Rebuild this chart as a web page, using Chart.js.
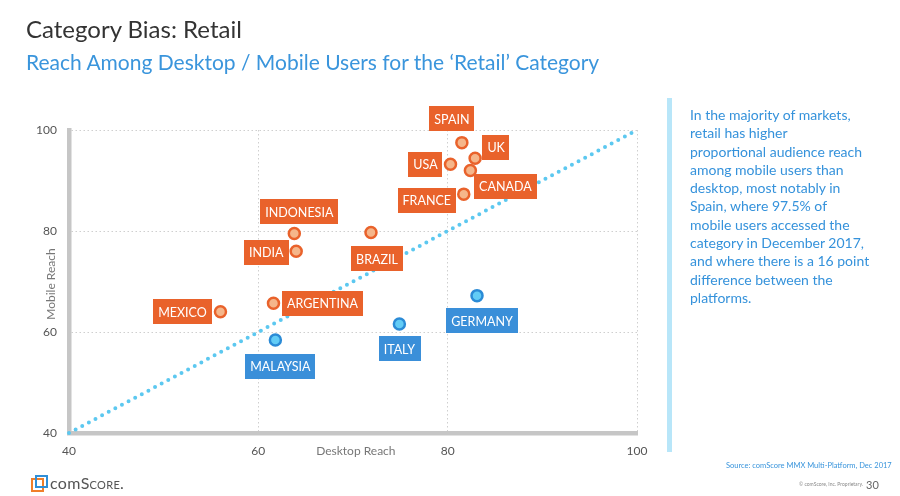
<!DOCTYPE html>
<html>
<head>
<meta charset="utf-8">
<script src="https://cdn.jsdelivr.net/npm/chart.js@4/dist/chart.umd.min.js"></script>
<style>
  html, body { margin: 0; padding: 0; background: #fff; }
  body { width: 900px; height: 496px; position: relative; overflow: hidden; font-family: 'Lato', sans-serif; }
  #wrap { position: absolute; left: 0; top: 0; width: 900px; height: 496px; }
  .title { position: absolute; left: 26px; top: 14px; font-size: 24px; color: #333; white-space: nowrap; }
  .subtitle { position: absolute; left: 26px; top: 49px; font-size: 21px; color: #3a95dc; white-space: nowrap; }
  .side-bar { position: absolute; left: 667px; top: 98px; width: 5px; height: 354px; background: #b8e6f9; }
  .side-text { position: absolute; left: 690px; top: 106px; width: 200px; font-size: 14px; line-height: 18.3px; color: #3592db; white-space: nowrap; }
  .source { position: absolute; left: 726px; top: 461px; font-size: 7.5px; color: #3a95dc; white-space: nowrap; }
  .copy { position: absolute; left: 799px; top: 481px; font-size: 5px; color: #888; white-space: nowrap; }
  .page { position: absolute; left: 866px; top: 478px; font-size: 11px; color: #666; }
  .logo { position: absolute; left: 31px; top: 475px; height: 18px; }
  .logo .sq1 { position: absolute; left: 0; top: 3px; width: 9px; height: 10px; border: 2px solid #f07f2a; }
  .logo .sq2 { position: absolute; left: 4px; top: 0px; width: 9px; height: 9px; border: 2px solid #2f8fd8; }
  .logo .word { position: absolute; left: 19px; top: -2px; font-size: 16px; color: #555; white-space: nowrap; letter-spacing: 0.3px; }
  .logo .word span { font-variant: small-caps; }
</style>
</head>
<body>
<div id="wrap"><canvas id="biasChart"></canvas></div>
<div class="title">Category Bias: Retail</div>
<div class="subtitle">Reach Among Desktop / Mobile Users for the ‘Retail’ Category</div>
<div class="side-bar"></div>
<div class="side-text">In the majority of markets,<br>retail has higher<br>proportional audience reach<br>among mobile users than<br>desktop, most notably in<br>Spain, where 97.5% of<br>mobile users accessed the<br>category in December 2017,<br>and where there is a 16 point<br>difference between the<br>platforms.</div>
<div class="source">Source: comScore MMX Multi-Platform, Dec 2017</div>
<div class="copy">© comScore, Inc. Proprietary.</div>
<div class="page">30</div>
<div class="logo"><div class="sq1"></div><div class="sq2"></div><div class="word">com<span>Score</span>.</div></div>

<script>
// Markets where mobile reach is higher (orange)
const mobileMarkets = ['SPAIN', 'UK', 'USA', 'CANADA', 'FRANCE', 'INDONESIA', 'INDIA', 'BRAZIL', 'ARGENTINA', 'MEXICO'];
const mobileDesktopReach = [81.5, 82.9, 80.3, 82.4, 81.7, 63.8, 64.0, 71.9, 61.6, 56.0];
const mobileMobileReach = [97.5, 94.4, 93.2, 92.0, 87.3, 79.5, 76.0, 79.7, 65.7, 64.0];

// Markets where desktop reach is higher (blue)
const desktopMarkets = ['MALAYSIA', 'ITALY', 'GERMANY'];
const desktopDesktopReach = [61.8, 74.9, 83.1];
const desktopMobileReach = [58.4, 61.6, 67.2];

// Axis ticks
const axisTicks = [40, 60, 80, 100];

// Label box placement relative to its point (layout only)
const labelOffsets = {
  SPAIN: [-10, -24], UK: [21, -11], USA: [-25, 0], CANADA: [35, 16], FRANCE: [-37, 6],
  INDONESIA: [5, -22], INDIA: [-30, 1], BRAZIL: [6, 26], ARGENTINA: [49, 0], MEXICO: [-38, 0],
  MALAYSIA: [5, 26], ITALY: [0, 25], GERMANY: [5, 25]
};

const colors = {
  orange: '#e9622b',
  orangeFill: '#f5b68a',
  blue: '#3a8fd9',
  blueFill: '#62ccf6',
  blueBorder: '#2b8bd6',
  diagonal: '#5cc8f0',
  axis: '#c6c6c6',
  grid: '#cfcfcf',
  tick: '#555'
};

function toPoints(xs, ys) {
  return xs.map((x, i) => ({ x: x, y: ys[i] }));
}

// draws the market tags and the axis titles
const labelPlugin = {
  id: 'marketLabels',
  afterDatasetsDraw(chart) {
    const ctx = chart.ctx;
    ctx.save();
    ctx.font = "12.5px 'Lato', sans-serif";
    ctx.textAlign = 'center';
    ctx.textBaseline = 'middle';
    [0, 1].forEach(di => {
      const ds = chart.data.datasets[di + 1];
      const meta = chart.getDatasetMeta(di + 1);
      meta.data.forEach((pt, i) => {
        const name = ds.names[i];
        const off = labelOffsets[name];
        const cx = pt.x + off[0];
        const cy = pt.y + off[1];
        const w = ctx.measureText(name).width + 10;
        const h = 25;
        ctx.fillStyle = ds.tagColor;
        ctx.fillRect(Math.round(cx - w / 2), Math.round(cy - h / 2), Math.round(w), h);
        ctx.fillStyle = '#fff';
        ctx.fillText(name, cx, cy + 1);
      });
    });

    const a = chart.chartArea;
    ctx.fillStyle = '#777';
    ctx.font = "12px 'Lato', sans-serif";
    ctx.fillText('Desktop Reach', chart.scales.x.getPixelForValue(70.3), a.bottom + 18);
    ctx.translate(51, chart.scales.y.getPixelForValue(69.5));
    ctx.rotate(-Math.PI / 2);
    ctx.fillText('Mobile Reach', 0, 0);
    ctx.restore();
  }
};

new Chart(document.getElementById('biasChart'), {
  type: 'scatter',
  data: {
    datasets: [
      {
        type: 'line',
        data: [{ x: 40, y: 40 }, { x: 100, y: 100 }],
        borderColor: colors.diagonal,
        borderWidth: 4,
        borderDash: [0, 7.5],
        borderCapStyle: 'round',
        pointRadius: 0,
        clip: false
      },
      {
        names: mobileMarkets,
        tagColor: colors.orange,
        data: toPoints(mobileDesktopReach, mobileMobileReach),
        backgroundColor: colors.orangeFill,
        borderColor: colors.orange,
        borderWidth: 2.5,
        pointRadius: 5.5,
        pointHoverRadius: 5.5
      },
      {
        names: desktopMarkets,
        tagColor: colors.blue,
        data: toPoints(desktopDesktopReach, desktopMobileReach),
        backgroundColor: colors.blueFill,
        borderColor: colors.blueBorder,
        borderWidth: 2.5,
        pointRadius: 5.5,
        pointHoverRadius: 5.5
      }
    ]
  },
  options: {
    responsive: true,
    maintainAspectRatio: false,
    animation: false,
    events: [],
    layout: { padding: { left: 0, top: 130, right: 263, bottom: 0 } },
    plugins: {
      legend: { display: false },
      tooltip: { enabled: false }
    },
    scales: {
      x: {
        type: 'linear',
        min: axisTicks[0],
        max: axisTicks[axisTicks.length - 1],
        afterBuildTicks: scale => { scale.ticks = axisTicks.map(v => ({ value: v })); },
        afterFit: scale => { scale.height = 63; },
        border: { color: colors.axis, width: 4.5, dash: [1.5, 2.5] },
        grid: { color: colors.grid, drawTicks: false },
        ticks: { color: colors.tick, padding: 11, font: { family: 'Lato', size: 12 } }
      },
      y: {
        type: 'linear',
        min: axisTicks[0],
        max: axisTicks[axisTicks.length - 1],
        afterBuildTicks: scale => { scale.ticks = axisTicks.map(v => ({ value: v })); },
        afterFit: scale => { scale.width = 69; },
        border: { color: colors.axis, width: 4.5, dash: [1.5, 2.5] },
        grid: { color: colors.grid, drawTicks: false },
        ticks: { color: colors.tick, padding: 12, font: { family: 'Lato', size: 12 } }
      }
    }
  },
  plugins: [labelPlugin]
});
</script>
</body>
</html>
